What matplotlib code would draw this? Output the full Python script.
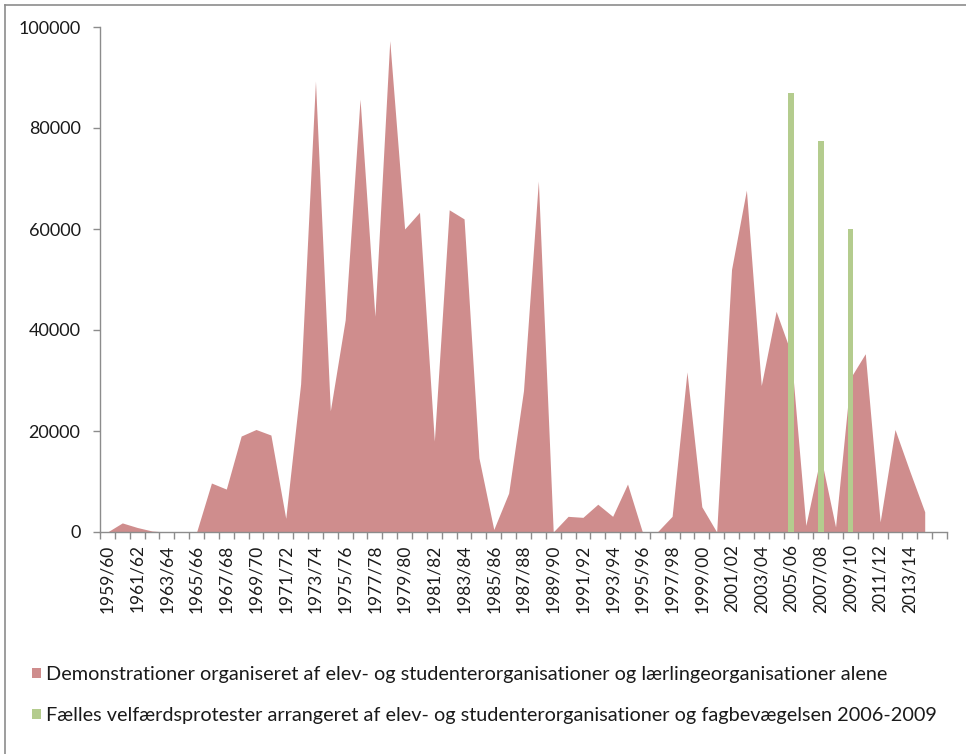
import matplotlib
matplotlib.use("Agg")
import matplotlib.pyplot as plt
from matplotlib.patches import Patch
from matplotlib.lines import Line2D

plt.rcParams['font.family'] = ['Lato', 'DejaVu Sans']

# Categories: school years 1959/60 .. 2014/15
years = list(range(1959, 2015))
categories = [f"{y}/{str(y + 1)[-2:]}" for y in years]

# Demonstrations organised by student/apprentice organisations alone
demo_values = [
    0, 1800, 900, 200, 0, 0, 0, 9700, 8500, 19000,
    20300, 19200, 2700, 29300, 89300, 24000, 42000, 85700, 42700, 97300,
    60000, 63300, 18000, 63800, 62000, 14700, 500, 7700, 28000, 69500,
    0, 3100, 2900, 5500, 3100, 9500, 0, 0, 3100, 31700,
    5000, 0, 52000, 67700, 29000, 43700, 35500, 1300, 15000, 1000,
    30500, 35300, 2000, 20300, 12000, 4000,
]

# Joint welfare protests 2006-2009
joint_categories = ["2005/06", "2007/08", "2009/10"]
joint_values = [87000, 77400, 60000]

series_labels = [
    "Demonstrationer organiseret af elev- og studenterorganisationer og lærlingeorganisationer alene",
    "Fælles velfærdsprotester arrangeret af elev- og studenterorganisationer og fagbevægelsen 2006-2009",
]

red = '#CF8D8D'
green = '#B4CC8E'
txt = '#1a1a1a'
axis_col = '#8c8c8c'

W, H = 966, 754
fig = plt.figure(figsize=(W / 100, H / 100), dpi=100)
ax = fig.add_axes([100 / W, 1 - 532 / H, (947 - 100) / W, (532 - 27) / H])

x_demo = list(range(len(demo_values)))
ax.fill_between(x_demo, demo_values, 0, color=red, linewidth=0, zorder=2)

x_joint = [categories.index(c) for c in joint_categories]
ax.bar(x_joint, joint_values, width=0.38, color=green, zorder=3)

n = len(categories)
n_slots = n + 1  # axis keeps one empty slot after the last category
ax.set_xlim(-0.5, n_slots - 0.5)
ax.set_ylim(0, 100000)

ax.set_yticks(range(0, 100001, 20000))
ax.set_yticklabels([str(v) for v in range(0, 100001, 20000)])
ax.tick_params(axis='y', direction='out', length=5, width=1, color=axis_col,
               labelsize=13, labelcolor=txt, pad=9)

ax.set_xticks(range(0, n, 2))
ax.set_xticklabels(categories[0::2], rotation=90)
ax.set_xticks([i - 0.5 for i in range(n_slots + 1)], minor=True)
ax.tick_params(axis='x', which='major', length=0, labelsize=12.5, labelcolor=txt, pad=9)
ax.tick_params(axis='x', which='minor', direction='out', length=5, width=1, color=axis_col)

for s in ['top', 'right']:
    ax.spines[s].set_visible(False)
for s in ['left', 'bottom']:
    ax.spines[s].set_color(axis_col)
    ax.spines[s].set_linewidth(1)

handles = [Patch(facecolor=red, edgecolor='none'), Patch(facecolor=green, edgecolor='none')]
fig.legend(handles, series_labels, loc='center left',
           bbox_to_anchor=(14 / W, 1 - 695 / H), frameon=False,
           fontsize=14.3, handlelength=0.45, handleheight=0.45, handletextpad=0.25,
           labelspacing=1.2, labelcolor=txt)

# chart border (left and top visible)
fig.add_artist(Line2D([5 / W, 5 / W], [0, 1 - 5 / H], color='#8c8c8c', lw=1.2, transform=fig.transFigure))
fig.add_artist(Line2D([5 / W, 1], [1 - 5 / H, 1 - 5 / H], color='#8c8c8c', lw=1.2, transform=fig.transFigure))

fig.savefig('out.png', dpi=100)
